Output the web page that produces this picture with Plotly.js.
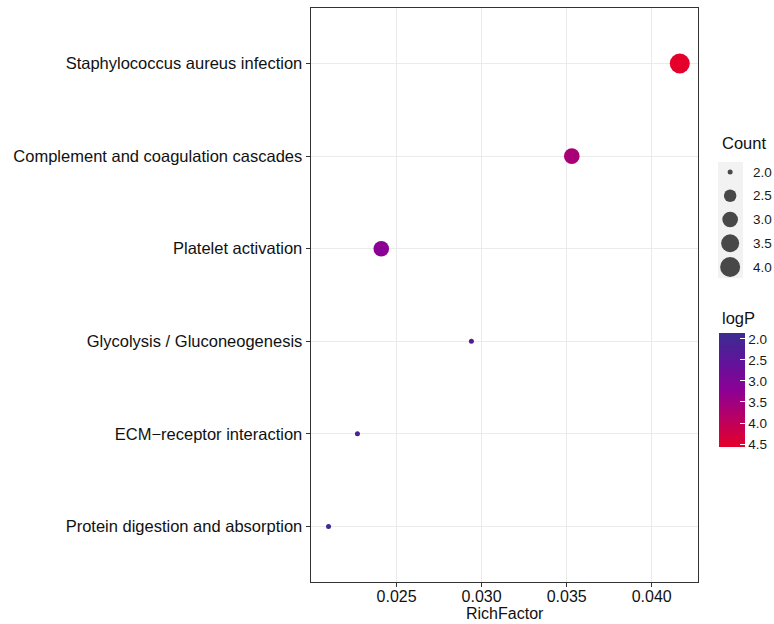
<!DOCTYPE html>
<html>
<head>
<meta charset="utf-8">
<script src="https://cdn.plot.ly/plotly-3.0.1.min.js"></script>
<style>html,body{margin:0;padding:0;background:#fff;}#chart{width:774px;height:624px;}</style>
</head>
<body>
<div id="chart"></div>
<script>
// ---- data ----
const pathways = [
  "Protein digestion and absorption",
  "ECM\u2212receptor interaction",
  "Glycolysis / Gluconeogenesis",
  "Platelet activation",
  "Complement and coagulation cascades",
  "Staphylococcus aureus infection"
];
const richFactor = [0.0210, 0.0227, 0.0294, 0.0241, 0.0353, 0.04165];
const counts = [2, 2, 2, 3, 3, 4];
const logP = [1.86, 2.10, 2.30, 3.20, 3.65, 4.57];

const countBreaks = [2.0, 2.5, 3.0, 3.5, 4.0];
const countLabels = ["2.0", "2.5", "3.0", "3.5", "4.0"];
const logPTicks = [2.0, 2.5, 3.0, 3.5, 4.0, 4.5];
const logPLabels = ["2.0", "2.5", "3.0", "3.5", "4.0", "4.5"];
const xTicks = [0.025, 0.030, 0.035, 0.040];

// ---- styling helpers ----
const FONT = "Liberation Sans, Arial, Helvetica, sans-serif";
function sizePx(c) { return 5 + 15 * Math.sqrt((c - 2) / 2); }
// reversed so that low logP sits at the top of the colour bar
const colorscale = [
  [0.00, "#E5002B"],
  [0.28, "#B4006A"],
  [0.50, "#8C0095"],
  [0.75, "#60149A"],
  [1.00, "#3B2C91"]
];

const W = 774, H = 624;
const px = x => x / W;
const py = y => 1 - y / H;

const main = {
  type: "scatter",
  mode: "markers",
  x: richFactor,
  y: pathways,
  xaxis: "x",
  yaxis: "y",
  showlegend: false,
  hoverinfo: "x+y",
  marker: {
    size: counts.map(sizePx),
    color: logP.map(v => -v),
    colorscale: colorscale,
    line: { width: 0 },
    opacity: 1,
    colorbar: {
      x: px(719), xanchor: "left", xpad: 0,
      y: py(390), yanchor: "middle", ypad: 0,
      len: 114, lenmode: "pixels",
      thickness: 26, thicknessmode: "pixels",
      outlinewidth: 0,
      tickvals: logPTicks.map(v => -v),
      ticktext: logPLabels,
      ticks: "inside", ticklen: 5, tickcolor: "#ffffff", tickwidth: 1,
      tickfont: { family: FONT, size: 13.5, color: "#1a1a1a" },
      ticklabelposition: "outside"
    }
  }
};

const sizeLegend = {
  type: "scatter",
  mode: "markers",
  x: countBreaks.map(() => 0.45),
  y: countBreaks,
  xaxis: "x2",
  yaxis: "y2",
  showlegend: false,
  hoverinfo: "skip",
  marker: { size: countBreaks.map(sizePx), color: "#000000", line: { width: 0 } }
};

const layout = {
  width: W, height: H,
  margin: { l: 0, r: 0, t: 0, b: 0 },
  paper_bgcolor: "#ffffff",
  plot_bgcolor: "#ffffff",
  font: { family: FONT, color: "#111111" },
  xaxis: {
    domain: [px(311), px(698)],
    anchor: "y",
    range: [0.01997, 0.04272],
    tickvals: xTicks,
    tickformat: ".3f",
    ticks: "outside", ticklen: 4, tickcolor: "#333333", tickwidth: 1,
    ticklabelstandoff: -5,
    tickfont: { family: FONT, size: 16, color: "#111111" },
    showgrid: true, gridcolor: "#EBEBEB", gridwidth: 1,
    zeroline: false,
    showline: true, mirror: true, linecolor: "#333333", linewidth: 1.4
  },
  yaxis: {
    domain: [py(582), py(8)],
    anchor: "x",
    type: "category",
    categoryorder: "array",
    categoryarray: pathways,
    range: [-0.6, 5.6],
    ticks: "outside", ticklen: 4, tickcolor: "#333333", tickwidth: 1,
    tickfont: { family: FONT, size: 16.5, color: "#111111" },
    showgrid: true, gridcolor: "#EBEBEB", gridwidth: 1,
    zeroline: false,
    showline: true, mirror: true, linecolor: "#333333", linewidth: 1.4
  },
  xaxis2: {
    domain: [px(718), px(745)],
    anchor: "y2",
    range: [0, 1],
    visible: false,
    fixedrange: true
  },
  yaxis2: {
    domain: [py(279), py(160)],
    anchor: "x2",
    side: "right",
    range: [4.2526, 1.7474],
    tickvals: countBreaks,
    ticktext: countLabels,
    ticks: "", showgrid: false, zeroline: false, showline: false,
    ticklabelstandoff: 7,
    tickfont: { family: FONT, size: 13.5, color: "#1a1a1a" },
    fixedrange: true
  },
  shapes: [
    { type: "rect", xref: "paper", yref: "paper",
      x0: px(718), x1: px(743), y0: py(278), y1: py(162),
      fillcolor: "#F2F2F2", line: { width: 0 }, layer: "below" }
  ],
  annotations: [
    { text: "RichFactor", xref: "paper", yref: "paper", x: px(504.5), y: py(613),
      xanchor: "center", yanchor: "middle", showarrow: false,
      font: { family: FONT, size: 16, color: "#111111" } },
    { text: "Count", xref: "paper", yref: "paper", x: px(720), y: py(143),
      xanchor: "left", yanchor: "middle", showarrow: false,
      font: { family: FONT, size: 16.5, color: "#111111" } },
    { text: "logP", xref: "paper", yref: "paper", x: px(720), y: py(318),
      xanchor: "left", yanchor: "middle", showarrow: false,
      font: { family: FONT, size: 16.5, color: "#111111" } }
  ]
};

Plotly.newPlot("chart", [main, sizeLegend], layout, { displayModeBar: false, staticPlot: true });
</script>
</body>
</html>
